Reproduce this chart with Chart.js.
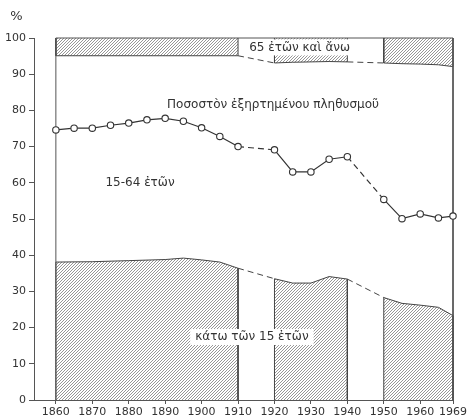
<!DOCTYPE html>
<html><head><meta charset="utf-8">
<script src="https://cdn.jsdelivr.net/npm/chart.js@4"></script>
<style>html,body{margin:0;padding:0;background:#fff}#wrap{width:469px;height:419px}</style>
</head><body><div id="wrap"><canvas id="c" width="469" height="419"></canvas></div>
<script>
// ---- data ----
const xTickLabels = [1860,1870,1880,1890,1900,1910,1920,1930,1940,1950,1960,1969];
const yTickValues = [0,10,20,30,40,50,60,70,80,90,100];
const dependentYears = [1860,1865,1870,1875,1880,1885,1890,1895,1900,1905,1910,1920,1925,1930,1935,1940,1950,1955,1960,1965,1969];
const dependentPct   = [74.6,75.1,75.1,75.9,76.5,77.4,77.8,77.0,75.2,72.8,70.0,69.1,63.0,63.0,66.5,67.2,55.4,50.1,51.4,50.3,50.8];
const under15Years = [1860,1870,1880,1890,1895,1900,1905,1910,1920,1925,1930,1935,1940,1950,1955,1960,1965,1969];
const under15Pct   = [38.1,38.2,38.5,38.8,39.2,38.7,38.1,36.4,33.5,32.3,32.3,34.1,33.4,28.3,26.7,26.2,25.6,23.3];
const over65Years    = [1860,1910,1920,1925,1930,1935,1940,1950,1955,1960,1965,1969];
const over65LowerPct = [95.1,95.1,93.1,93.3,93.4,93.5,93.4,93.1,92.9,92.8,92.6,92.1];
const gapPeriods = [[1910,1920],[1940,1950]];

// ---- helpers ----
const isGap = (a,b) => gapPeriods.some(g => a === g[0] && b === g[1]);
function splitRuns(years, vals){
  const runs = [[]], gaps = [];
  years.forEach((yr,i) => {
    if (i > 0 && isGap(years[i-1], yr)) {
      gaps.push([{x:years[i-1], y:vals[i-1]}, {x:yr, y:vals[i]}]);
      runs.push([]);
    }
    runs[runs.length-1].push({x:yr, y:vals[i]});
  });
  return {runs, gaps};
}
function hatch(){
  const s = 3;
  const c = document.createElement('canvas'); c.width = s; c.height = s;
  const g = c.getContext('2d');
  g.strokeStyle = '#8a8a8a'; g.lineWidth = 0.9;
  g.beginPath();
  g.moveTo(0,s); g.lineTo(s,0);
  g.moveTo(-1,1); g.lineTo(1,-1);
  g.moveTo(s-1,s+1); g.lineTo(s+1,s-1);
  g.stroke();
  return g.createPattern(c,'repeat');
}
const pattern = hatch();
const edge = '#444';
const datasets = [];

const u = splitRuns(under15Years, under15Pct);
u.runs.forEach(r => datasets.push({
  data: [{x:r[0].x, y:0}, ...r, {x:r[r.length-1].x, y:0}],
  fill: 'origin', backgroundColor: pattern, borderColor: edge, borderWidth: 1,
  pointRadius: 0, tension: 0, clip: 4, order: 3
}));
u.gaps.forEach(g => datasets.push({data:g, fill:false, borderColor:edge, borderWidth:1, borderDash:[6,4], pointRadius:0, clip:4, order:3}));

const o = splitRuns(over65Years, over65LowerPct);
o.runs.forEach(r => datasets.push({
  data: [{x:r[0].x, y:100}, ...r, {x:r[r.length-1].x, y:100}],
  fill: {value:100}, backgroundColor: pattern, borderColor: edge, borderWidth: 1,
  pointRadius: 0, tension: 0, clip: 4, order: 3
}));
o.gaps.forEach(g => datasets.push({data:g, fill:false, borderColor:edge, borderWidth:1, borderDash:[6,4], pointRadius:0, clip:4, order:3}));

// frame around the data period
const x0 = dependentYears[0], x1 = dependentYears[dependentYears.length-1];
datasets.push({data:[{x:x0,y:0},{x:x0,y:100},{x:x1,y:100},{x:x1,y:0}], fill:false, borderColor:'#555', borderWidth:1, pointRadius:0, clip:4, order:2});

// dependency ratio line
datasets.push({
  data: dependentYears.map((yr,i) => ({x:yr, y:dependentPct[i]})),
  fill:false, borderColor:'#333', borderWidth:1.2,
  pointRadius:3.2, pointBackgroundColor:'#fff', pointBorderColor:'#333', pointBorderWidth:1.1,
  segment:{borderDash: ctx => isGap(ctx.p0.parsed.x, ctx.p1.parsed.x) ? [6,4] : undefined},
  clip: 6, order: 1
});

const textFont = '12px "DejaVu Sans"';
const notes = [
  {text:'Ποσοστὸν ἐξηρτημένου πληθυσμοῦ', x:1919.6, y:81.6, box:false},
  {text:'15-64 ἐτῶν', x:1883.1, y:60.0, box:false},
  {text:'κάτω τῶν 15 ἐτῶν', x:1913.8, y:17.4, box:true},
  {text:'65 ἐτῶν καὶ ἄνω', x:1926.9, y:97.4, box:true}
];
const labelPlugin = {
  id:'labels',
  afterDatasetsDraw(chart){
    const {ctx, scales:{x, y}} = chart;
    ctx.save();
    ctx.font = textFont; ctx.textAlign = 'center'; ctx.textBaseline = 'middle';
    notes.forEach(n => {
      const px = x.getPixelForValue(n.x), py = y.getPixelForValue(n.y);
      if (n.box) {
        const w = ctx.measureText(n.text).width + 10;
        ctx.fillStyle = '#fff';
        ctx.fillRect(px - w/2, py - 8, w, 16);
      }
      ctx.fillStyle = '#333';
      ctx.fillText(n.text, px, py);
    });
    ctx.font = '13px "DejaVu Sans"';
    ctx.fillText('%', 16.5, chart.chartArea.top - 21);
    ctx.restore();
  }
};

new Chart(document.getElementById('c'), {
  type:'line',
  data:{datasets},
  plugins:[labelPlugin],
  options:{
    responsive:false, animation:false, devicePixelRatio:1,
    layout:{padding:{top:38, right:15, left:0, bottom:0}},
    plugins:{legend:{display:false}, tooltip:{enabled:false}, title:{display:false}},
    scales:{
      x:{type:'linear', min:1854, max:1969,
        afterBuildTicks: a => { a.ticks = xTickLabels.map(v => ({value:v})); },
        afterFit: a => { a.height = 19; },
        grid:{drawOnChartArea:false, tickLength:4, color:'#555'},
        border:{color:'#555', width:1},
        ticks:{color:'#333', font:{family:'DejaVu Sans', size:11}, padding:2, maxRotation:0, autoSkip:false, callback: v => String(v)}
      },
      y:{min:0, max:100,
        afterBuildTicks: a => { a.ticks = yTickValues.map(v => ({value:v})); },
        afterFit: a => { a.width = 34; },
        grid:{drawOnChartArea:false, tickLength:5, color:'#555'},
        border:{color:'#555', width:1},
        ticks:{color:'#333', font:{family:'DejaVu Sans', size:11}, padding:3}
      }
    }
  }
});
</script></body></html>
